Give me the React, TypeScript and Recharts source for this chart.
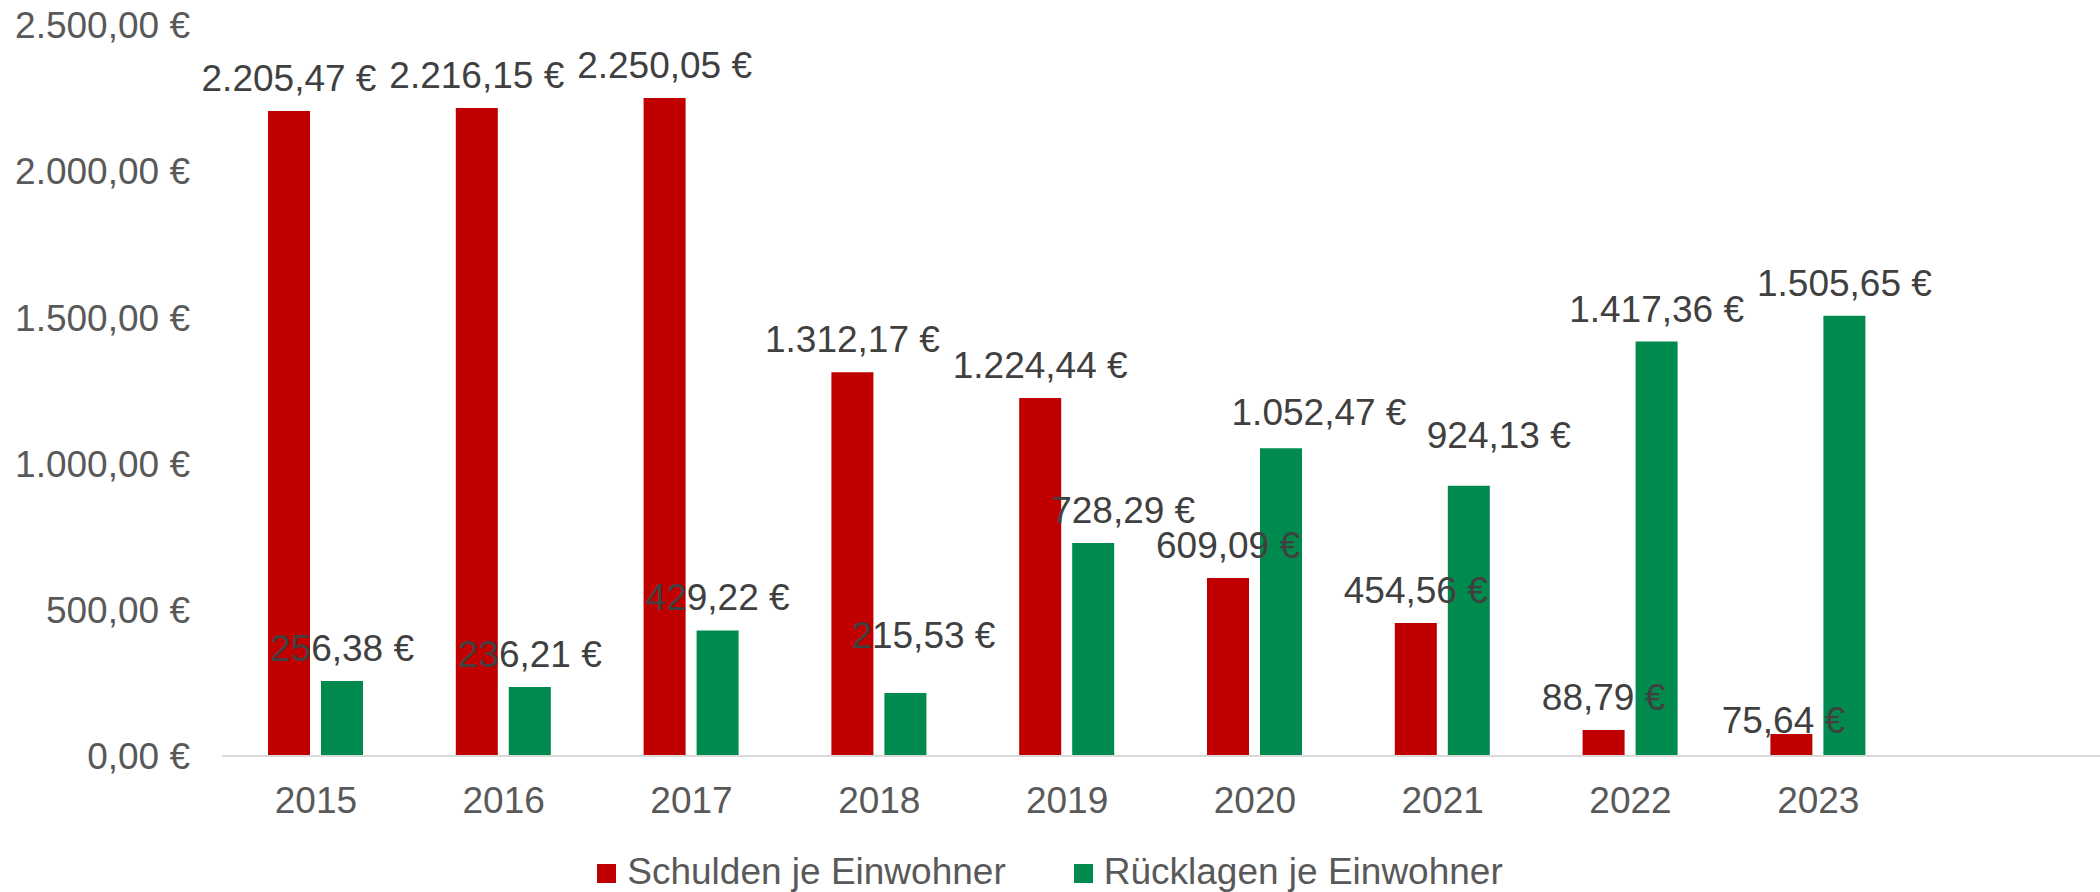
import { BarChart, Bar, XAxis, YAxis, Legend, LabelList } from 'recharts'

// Jahre (letzte Kategorie bleibt leer, wie im Original)
const years = ['2015', '2016', '2017', '2018', '2019', '2020', '2021', '2022', '2023', '']
const schulden = [2205.47, 2216.15, 2250.05, 1312.17, 1224.44, 609.09, 454.56, 88.79, 75.64, null]
const ruecklagen = [256.38, 236.21, 429.22, 215.53, 728.29, 1052.47, 924.13, 1417.36, 1505.65, null]
const seriesNames = ['Schulden je Einwohner', 'Rücklagen je Einwohner']
const yTicks = [0, 500, 1000, 1500, 2000, 2500]

// manuelle Verschiebung einzelner Beschriftungen (wie in der Vorlage)
const schuldenNudge = [[0, 0], [0, 0], [0, 0], [0, 0], [0, 0], [0, 0], [0, 0], [0, 0], [-8, 19]]
const ruecklagenNudge = [[0, 0], [0, 0], [0, 0], [18, -25], [30, 0], [38, -3], [30, -18], [0, 0], [0, 0]]

const data = years.map((year, i) => ({
  year,
  schulden: schulden[i],
  ruecklagen: ruecklagen[i],
}))

const FONT = '"Liberation Sans", Arial, sans-serif'
const RED = '#C00000'
const GREEN = '#008A4E'

function euro(v: number) {
  const [int, dec] = v.toFixed(2).split('.')
  const withDots = int.replace(/\B(?=(\d{3})+(?!\d))/g, '.')
  return `${withDots},${dec} €`
}

const makeLabel = (nudge: number[][]) => (props: any) => {
  const { x, y, width, value, index } = props
  if (value == null) return null
  const [dx, dy] = nudge[index] || [0, 0]
  return (
    <text
      x={Number(x) + Number(width) / 2 + dx}
      y={Number(y) - 20 + dy}
      textAnchor="middle"
      fill="#404040"
      fontSize={37}
      fontFamily={FONT}
    >
      {euro(value)}
    </text>
  )
}

function LegendContent({ payload }: any) {
  const items = [...(payload || [])].sort(
    (a: any, b: any) => seriesNames.indexOf(a.value) - seriesNames.indexOf(b.value)
  )
  return (
    <div style={{
      display: 'flex',
      justifyContent: 'center',
      alignItems: 'center',
      height: 40,
      fontFamily: FONT,
      fontSize: 37,
      color: '#595959',
    }}>
      {items.map((p: any, i: number) => (
        <div key={i} style={{ display: 'flex', alignItems: 'center', marginLeft: i > 0 ? 68 : 0 }}>
          <span style={{ width: 19, height: 19, background: p.color, marginRight: 11, marginTop: 3 }} />
          <span>{p.value}</span>
        </div>
      ))}
    </div>
  )
}

export default function App() {
  return (
    <div style={{ position: 'absolute', left: 0, top: 0, width: 2100, height: 892, background: '#fff' }}>
      <BarChart
        width={2100}
        height={892}
        data={data}
        margin={{ top: 25, right: 0, left: 0, bottom: 0 }}
        barSize={42}
        barGap={11}
      >
        <XAxis
          dataKey="year"
          height={96}
          tickLine={false}
          tickSize={0}
          tickMargin={31}
          axisLine={{ stroke: '#D9D9D9', strokeWidth: 2 }}
          tick={{ fill: '#595959', fontSize: 37, fontFamily: FONT }}
        />
        <YAxis
          width={222}
          domain={[0, 2500]}
          ticks={yTicks}
          axisLine={false}
          tickLine={false}
          tickSize={0}
          tickMargin={32}
          tickFormatter={(v: number) => euro(v)}
          tick={{ fill: '#595959', fontSize: 37, fontFamily: FONT }}
        />
        <Legend
          verticalAlign="bottom"
          align="center"
          content={<LegendContent />}
          wrapperStyle={{ height: 40, width: 2100, left: 0 }}
        />
        <Bar dataKey="schulden" name={seriesNames[0]} fill={RED} isAnimationActive={false}>
          <LabelList dataKey="schulden" content={makeLabel(schuldenNudge)} />
        </Bar>
        <Bar dataKey="ruecklagen" name={seriesNames[1]} fill={GREEN} isAnimationActive={false}>
          <LabelList dataKey="ruecklagen" content={makeLabel(ruecklagenNudge)} />
        </Bar>
      </BarChart>
    </div>
  )
}
